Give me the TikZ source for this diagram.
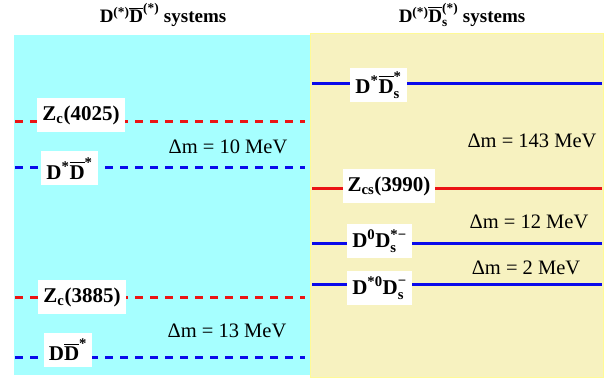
\documentclass[tikz,border=0pt]{standalone}
\usepackage{amsmath}
\usepackage{fontspec}
\setmainfont{Liberation Serif}
\definecolor{bgcyan}{RGB}{166,255,255}
\definecolor{bgyellow}{RGB}{247,242,192}
\definecolor{bgyedge}{RGB}{255,250,150}
\definecolor{lvred}{RGB}{235,20,20}
\definecolor{lvblue}{RGB}{10,10,235}
\newcommand{\Db}{\overline{\text{D}}}
\begin{document}
\begin{tikzpicture}[x=1pt,y=-1pt,
  lab/.style={fill=white,inner xsep=5pt,inner ysep=2pt,minimum height=34pt,font=\fontsize{21}{25}\selectfont\bfseries,anchor=center},
  dm/.style={font=\fontsize{20.5}{24}\selectfont,anchor=center},
  ttl/.style={font=\fontsize{19}{22}\selectfont\bfseries,anchor=center},
  dashlev/.style={line width=3pt,dash pattern=on 8pt off 7pt},
  sollev/.style={line width=3pt}]
\useasboundingbox (0,0) rectangle (608,379);
% backgrounds
\fill[bgcyan] (14,35) rectangle (310,375);
\filldraw[fill=bgyellow,draw=bgyedge,line width=1pt] (310,33.5) rectangle (603,377.5);
% titles
\node[ttl] (t1) at (163,15) {D$^{\text{(*)}}\Db^{\text{(*)}}$ systems};
\node[ttl] (t2) at (462,15) {D$^{\text{(*)}}\Db^{\text{(*)}}_{\text{s}}$ systems};
% left level ends
\coordinate (a1) at (15,122); \coordinate (b1) at (305,122);
\coordinate (a2) at (15,168); \coordinate (b2) at (305,168);
\coordinate (a3) at (15,298); \coordinate (b3) at (305,298);
\coordinate (a4) at (15,358); \coordinate (b4) at (305,358);
\draw[dashlev,lvred] (a1) -- (b1);
\draw[dashlev,lvblue] (a2) -- (b2);
\draw[dashlev,lvred] (a3) -- (b3);
\draw[dashlev,lvblue] (a4) -- (b4);
% right level ends
\coordinate (c1) at (312,84); \coordinate (d1) at (602,84);
\coordinate (c2) at (312,188.5); \coordinate (d2) at (602,188.5);
\coordinate (c3) at (312,244); \coordinate (d3) at (602,244);
\coordinate (c4) at (312,284.5); \coordinate (d4) at (602,284.5);
\draw[sollev,lvblue] (c1) -- (d1);
\draw[sollev,lvred] (c2) -- (d2);
\draw[sollev,lvblue] (c3) -- (d3);
\draw[sollev,lvblue] (c4) -- (d4);
% left labels
\node[lab] (zc4025) at (81,115) {Z$_{\text{c}}$(4025)};
\node[lab] (dsds) at (69.5,168.5) {D$^{\text{*}}\Db^{\text{*}}$};
\node[lab] (zc3885) at (82,297.5) {Z$_{\text{c}}$(3885)};
\node[lab] (dds) at (68,350) {D$\Db^{\text{*}}$};
% right labels
\node[lab] (dsdss) at (378.5,85) {D$^{\text{*}}\Db^{\text{*}}_{\text{s}}$};
\node[lab] (zcs) at (389,186) {Z$_{\text{cs}}$(3990)};
\node[lab] (d0ds) at (379.5,241) {D$^{\text{0}}\text{D}^{\text{*−}}_{\text{s}}$};
\node[lab] (ds0d) at (379.5,288) {D$^{\text{*0}}\text{D}^{\text{−}}_{\text{s}}$};
% mass differences
\node[dm] (m1) at (228,147) {Δm = 10 MeV};
\node[dm] (m2) at (227,331) {Δm = 13 MeV};
\node[dm] (m3) at (532,141) {Δm = 143 MeV};
\node[dm] (m4) at (529,222) {Δm = 12 MeV};
\node[dm] (m5) at (526,268) {Δm = 2 MeV};
\end{tikzpicture}
\end{document}
